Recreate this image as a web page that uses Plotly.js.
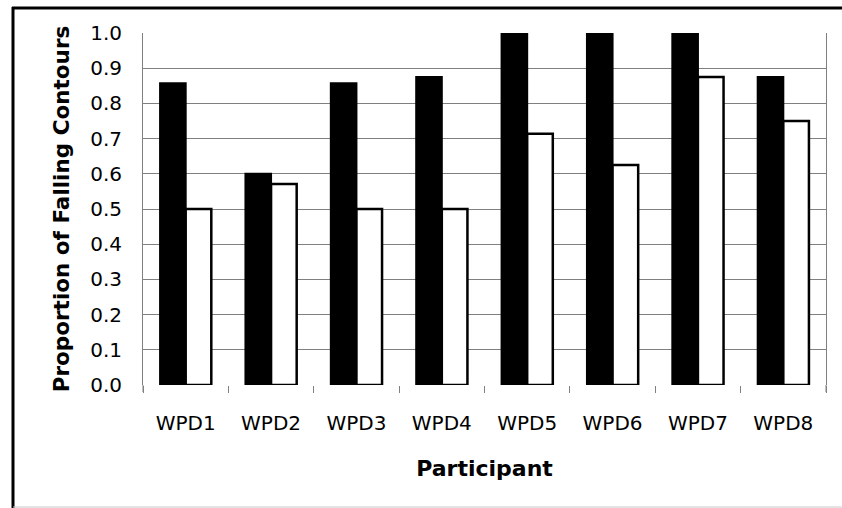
<!DOCTYPE html>
<html>
<head>
<meta charset="utf-8">
<script src="https://cdn.plot.ly/plotly-3.0.1.min.js"></script>
<style>
  html, body { margin: 0; padding: 0; background: #fff; }
  #chart { width: 842px; height: 508px; }
</style>
</head>
<body>
<div id="chart"></div>
<script>
const participants = ["WPD1", "WPD2", "WPD3", "WPD4", "WPD5", "WPD6", "WPD7", "WPD8"];
const seriesBlack = [0.857, 0.600, 0.857, 0.875, 1.000, 1.000, 1.000, 0.875];
const seriesWhite = [0.500, 0.571, 0.500, 0.500, 0.714, 0.625, 0.875, 0.750];
const yTickVals = [0, 0.1, 0.2, 0.3, 0.4, 0.5, 0.6, 0.7, 0.8, 0.9, 1.0];
const yTickText = ["0.0", "0.1", "0.2", "0.3", "0.4", "0.5", "0.6", "0.7", "0.8", "0.9", "1.0"];

const W = 842, H = 508;
const mL = 143, mR = 16, mT = 33, mB = 123;
const pw = W - mL - mR, ph = H - mT - mB;
const px = x => (x - mL) / pw;
const py = y => (H - mB - y) / ph;

const FONT = "DejaVu Sans, Verdana, sans-serif";

const traces = [
  { type: "bar", x: participants, y: seriesBlack, name: "A",
    marker: { color: "#000000", line: { color: "#000000", width: 2 } }, hoverinfo: "skip" },
  { type: "bar", x: participants, y: seriesWhite, name: "B",
    marker: { color: "#ffffff", line: { color: "#000000", width: 2.5 } }, hoverinfo: "skip" }
];

const layout = {
  width: W, height: H,
  margin: { l: mL, r: mR, t: mT, b: mB, pad: 0 },
  paper_bgcolor: "#ffffff", plot_bgcolor: "#ffffff",
  showlegend: false,
  barmode: "group", bargap: 0.4, bargroupgap: 0,
  font: { family: FONT, size: 20, color: "#000000" },
  xaxis: {
    type: "category",
    showgrid: false, showline: false, zeroline: false,
    ticks: "outside", tickson: "boundaries", ticklen: 7, tickwidth: 1, tickcolor: "#808080",
    ticklabelstandoff: 24,
    tickfont: { family: FONT, size: 20, color: "#000000" },
    title: { text: "<b>Participant</b>", font: { family: FONT, size: 22, color: "#000000" }, standoff: 26 },
    automargin: false
  },
  yaxis: {
    range: [0, 1], autorange: false,
    tickvals: yTickVals, ticktext: yTickText,
    ticks: "", showline: true, linecolor: "#808080", linewidth: 1, mirror: true,
    showgrid: true, gridcolor: "#808080", gridwidth: 1, zeroline: false,
    ticklabelstandoff: 16,
    tickfont: { family: FONT, size: 20, color: "#000000" },
    title: { text: "<b>Proportion of Falling Contours</b>", font: { family: FONT, size: 21.5, color: "#000000" }, standoff: 14 },
    automargin: false
  },
  shapes: [
    // extend vertical frame lines below the plot (boundary ticks)
    { type: "line", xref: "paper", yref: "paper", x0: 0, x1: 0, y0: 0, y1: py(392),
      line: { color: "#808080", width: 1 } },
    { type: "line", xref: "paper", yref: "paper", x0: 1, x1: 1, y0: 0, y1: py(392),
      line: { color: "#808080", width: 1 } },
    // outer chart frame: thick left & top
    { type: "line", xref: "paper", yref: "paper", x0: px(13), x1: px(13), y0: py(7), y1: py(510),
      line: { color: "#000000", width: 3 } },
    { type: "line", xref: "paper", yref: "paper", x0: px(12), x1: px(845), y0: py(8), y1: py(8),
      line: { color: "#000000", width: 3 } },
    { type: "line", xref: "paper", yref: "paper", x0: px(13), x1: px(845), y0: py(507), y1: py(507),
      line: { color: "#c8c8c8", width: 1 } }
  ]
};

Plotly.newPlot("chart", traces, layout, { staticPlot: true, displayModeBar: false });
</script>
</body>
</html>
